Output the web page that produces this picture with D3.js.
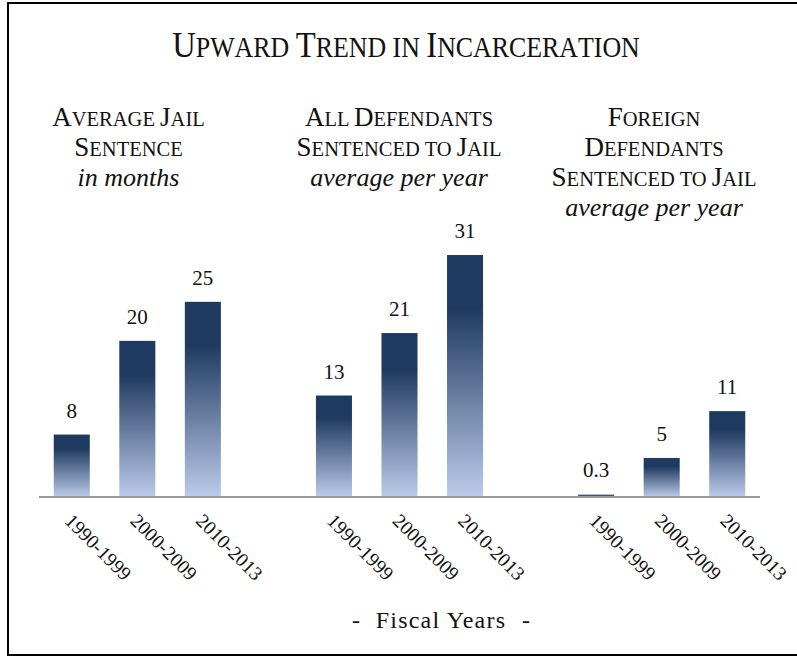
<!DOCTYPE html>
<html>
<head>
<meta charset="utf-8">
<script src="https://cdn.jsdelivr.net/npm/d3@7"></script>
<style>
  html, body { margin: 0; padding: 0; background: #fff; }
  svg { display: block; }
  text { font-family: "Liberation Serif", "Times New Roman", serif; fill: #111; }
</style>
</head>
<body>
<svg id="chart" width="797" height="656"></svg>
<script>
// ---- data ----
const title = "Upward Trend in Incarceration";
const periods = ["1990-1999", "2000-2009", "2010-2013"];
const groupKeys = ["avg", "all", "foreign"];
const groupHeadings = [
  ["Average Jail", "Sentence"],
  ["All Defendants", "Sentenced to Jail"],
  ["Foreign", "Defendants", "Sentenced to Jail"]
];
const groupSubtitles = ["in months", "average per year", "average per year"];
const avgSentence = [8, 20, 25];
const allDefendants = [13, 21, 31];
const foreignDefendants = [0.3, 5, 11];
const xAxisTitle = "Fiscal Years";

const seriesValues = [avgSentence, allDefendants, foreignDefendants];

// ---- build rows ----
const rows = [];
const slots = [];
groupKeys.forEach((g, gi) => {
  periods.forEach((p, pi) => {
    const key = g + "|" + p;
    slots.push(key);
    rows.push({ key, group: gi, period: p, value: seriesValues[gi][pi] });
  });
  if (gi < groupKeys.length - 1) slots.push("gap" + gi);
});

const svg = d3.select("#chart");

// border
svg.append("rect")
  .attr("x", 8).attr("y", 3).attr("width", 800).attr("height", 652)
  .attr("fill", "none").attr("stroke", "#000").attr("stroke-width", 2);

// gradient
const defs = svg.append("defs");
const grad = defs.append("linearGradient").attr("id", "barGrad")
  .attr("x1", 0).attr("y1", 0).attr("x2", 0).attr("y2", 1);
grad.append("stop").attr("offset", "0").attr("stop-color", "#1f3a60");
grad.append("stop").attr("offset", "0.22").attr("stop-color", "#1f3a60");
grad.append("stop").attr("offset", "1").attr("stop-color", "#bccbea");

// scales
const x = d3.scaleBand().domain(slots).range([39, 760]).paddingInner(0.45).paddingOuter(0.225);
const y = d3.scaleLinear().domain([0, 31]).range([497, 255]);

// small caps helper
function smallCaps(sel, str, big, small) {
  for (const ch of str) {
    const isUpper = ch !== ch.toLowerCase();
    sel.append("tspan")
      .attr("font-size", isUpper ? big : small)
      .text(ch.toUpperCase());
  }
}

// title
const t = svg.append("text")
  .attr("x", 0).attr("y", 0)
  .attr("text-anchor", "middle");
smallCaps(t, title, 36, 28.5);
{
  const bb = t.node().getBBox();
  const sx = 462 / bb.width;
  t.attr("transform", `translate(406,57) scale(${sx},1)`);
}

// group headings
const groupCenters = [128.5, 399, 654];
groupHeadings.forEach((lines, gi) => {
  lines.forEach((ln, li) => {
    const tx = svg.append("text")
      .attr("x", groupCenters[gi]).attr("y", 126 + li * 30)
      .attr("text-anchor", "middle");
    smallCaps(tx, ln, 27, 20.5);
  });
  svg.append("text")
    .attr("x", groupCenters[gi]).attr("y", 126 + lines.length * 30)
    .attr("text-anchor", "middle")
    .attr("font-style", "italic")
    .attr("font-size", 26)
    .text(groupSubtitles[gi]);
});

// bars
svg.append("g").selectAll("rect").data(rows).join("rect")
  .attr("x", d => x(d.key))
  .attr("width", x.bandwidth())
  .attr("y", d => y(d.value))
  .attr("height", d => y(0) - y(d.value))
  .attr("fill", "url(#barGrad)");

// axis line
svg.append("line")
  .attr("x1", x.range()[0]).attr("x2", x.range()[1])
  .attr("y1", y(0)).attr("y2", y(0))
  .attr("stroke", "#999").attr("stroke-width", 2);

// value labels
svg.append("g").selectAll("text").data(rows).join("text")
  .attr("x", d => x(d.key) + x.bandwidth() / 2)
  .attr("y", d => Math.min(y(d.value), y(0) - 3) - 17)
  .attr("text-anchor", "middle")
  .attr("font-size", 21)
  .text(d => String(d.value));

// rotated tick labels
svg.append("g").selectAll("text").data(rows).join("text")
  .attr("transform", d => `translate(${x(d.key) + x.bandwidth() / 2 - 8},522) rotate(45)`)
  .attr("text-anchor", "start")
  .attr("font-size", 19.5)
  .text(d => d.period);

// x axis title
svg.append("text").attr("x", 356).attr("y", 628).attr("text-anchor", "middle")
  .attr("font-size", 24).text("-");
svg.append("text").attr("x", 441).attr("y", 628).attr("text-anchor", "middle")
  .attr("font-size", 24).attr("letter-spacing", 1.2).text(xAxisTitle);
svg.append("text").attr("x", 526).attr("y", 628).attr("text-anchor", "middle")
  .attr("font-size", 24).text("-");
</script>
</body>
</html>
